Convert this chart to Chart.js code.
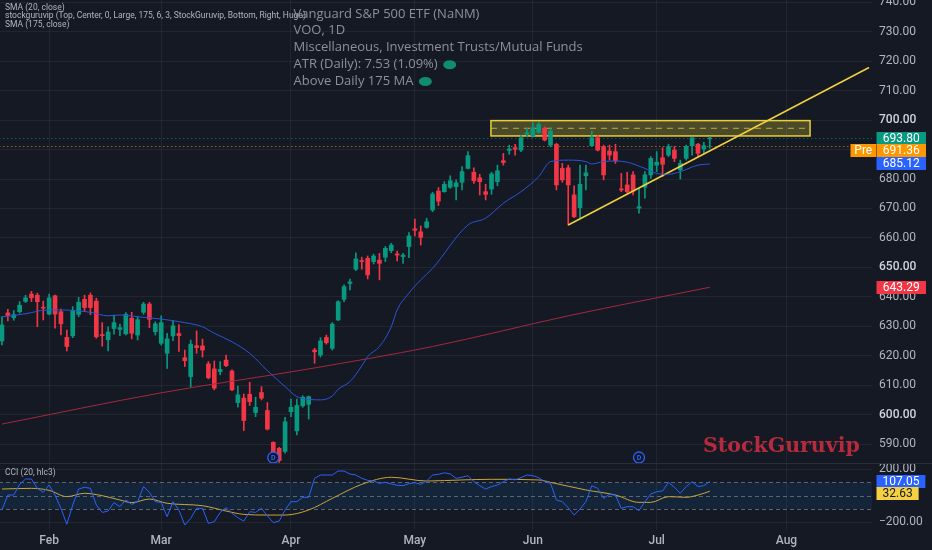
<!DOCTYPE html>
<html>
<head>
<meta charset="utf-8">
<script src="https://cdn.jsdelivr.net/npm/chart.js@4.4.1/dist/chart.umd.min.js"></script>
<style>
  html, body { margin: 0; padding: 0; background: #151924; width: 932px; height: 550px; overflow: hidden; }
  #pricePane { position: absolute; left: -1px; top: 0; width: 933px; height: 463px; }
  #cciPane { position: absolute; left: -1px; top: 463px; width: 933px; height: 87px; }
</style>
</head>
<body>
<div id="pricePane"><canvas id="priceChart"></canvas></div>
<div id="cciPane"><canvas id="cciChart"></canvas></div>
<script>
// trading days, Jan 21 -> Aug 21 (future slots keep the empty space on the right)
const monthNames = ['Jan', 'Feb', 'Mar', 'Apr', 'May', 'Jun', 'Jul', 'Aug'];
const monthDays = [
  [21, 22, 23, 26, 27, 28, 29, 30],
  [2, 3, 4, 5, 6, 9, 10, 11, 12, 13, 17, 18, 19, 20, 23, 24, 25, 26, 27],
  [2, 3, 4, 5, 6, 9, 10, 11, 12, 13, 16, 17, 18, 19, 20, 23, 24, 25, 26, 27, 30, 31],
  [1, 2, 6, 7, 8, 9, 10, 13, 14, 15, 16, 17, 20, 21, 22, 23, 24, 27, 28, 29, 30],
  [1, 4, 5, 6, 7, 8, 11, 12, 13, 14, 15, 18, 19, 20, 21, 22, 26, 27, 28, 29],
  [1, 2, 3, 4, 5, 8, 9, 10, 11, 12, 15, 16, 17, 18, 22, 23, 24, 25, 26, 29, 30],
  [1, 2, 6, 7, 8, 9, 10, 13, 14, 15, 16, 17, 20, 21, 22, 23, 24, 27, 28, 29, 30, 31],
  [3, 4, 5, 6, 7, 10, 11, 12, 13, 14, 17, 18, 19, 20, 21]
];
const tickMonths = ['Feb', 'Mar', 'Apr', 'May', 'Jun', 'Jul', 'Aug'];
const priceTicks = [590, 600, 610, 620, 630, 640, 650, 660, 670, 680, 690, 700, 710, 720, 730, 740];
const strongTicks = [600, 650, 700];
const cciTicks = [-200, 200];

// VOO daily candles
const opens = [625.1, 634.6, 633.0, 635.0, 638.5, 641.0, 640.6, 636.5, 634.2, 640.4,
  635.0, 626.3, 626.8, 634.1, 639.2, 640.6, 638.6, 627.1, 625.5, 629.3,
  629.0, 627.5, 632.8, 627.1, 634.8, 637.6, 628.2, 624.3, 620.9, 626.8,
  627.6, 619.4, 613.0, 623.5, 623.4, 617.3, 615.6, 614.7, 618.6, 614.9,
  604.2, 605.7, 607.0, 600.8, 607.6, 601.5, 590.7, 588.7, 587.6, 601.1,
  594.6, 603.1, 603.6, 622.0, 620.3, 626.3, 622.6, 632.2, 639.2, 644.6,
  649.4, 652.3, 653.1, 652.0, 652.5, 653.5, 655.7, 654.6, 653.7, 657.1,
  663.1, 662.1, 663.6, 669.5, 675.9, 675.7, 677.2, 677.4, 678.9, 683.6,
  682.3, 680.4, 675.7, 676.6, 679.1, 686.2, 689.7, 690.6, 689.8, 695.2,
  694.6, 695.8, 697.2, 691.5, 691.8, 683.6, 683.8, 674.6, 670.3, 681.1,
  691.3, 694.0, 691.0, 689.5, 689.3, 676.6, 678.0, 681.4, 670.1, 677.2,
  681.4, 684.7, 687.2, 688.1, 689.8, 683.1, 687.0, 691.3, 691.8, 690.2,
  693.6];
const highs = [633.3, 635.8, 635.4, 638.4, 640.6, 641.9, 641.3, 638.6, 641.0, 640.6,
  635.9, 628.8, 636.7, 639.9, 640.6, 641.4, 639.6, 631.3, 629.9, 633.9,
  630.8, 634.7, 634.8, 633.3, 638.2, 638.2, 631.6, 633.6, 627.7, 631.9,
  630.6, 622.0, 625.4, 628.5, 625.7, 618.1, 618.3, 618.1, 620.3, 615.3,
  609.8, 607.1, 611.1, 606.0, 609.6, 604.2, 590.9, 589.0, 599.2, 605.4,
  605.4, 606.5, 606.4, 622.6, 626.2, 627.1, 631.3, 638.7, 644.1, 646.1,
  655.0, 653.5, 653.9, 654.5, 654.8, 657.1, 658.2, 655.6, 654.8, 661.8,
  666.4, 664.1, 666.7, 675.5, 677.1, 679.1, 681.1, 679.7, 684.2, 689.3,
  683.8, 681.6, 678.2, 682.3, 684.7, 688.7, 691.5, 691.8, 694.7, 697.2,
  699.2, 699.2, 697.7, 697.4, 692.1, 685.3, 684.7, 677.7, 684.7, 684.7,
  696.3, 694.7, 691.5, 691.5, 691.8, 681.9, 682.3, 682.5, 676.8, 682.5,
  687.6, 689.3, 690.6, 691.8, 691.0, 686.4, 691.5, 694.0, 692.1, 692.4,
  694.3];
const lows = [623.7, 631.9, 632.1, 634.5, 638.1, 638.4, 629.9, 632.2, 633.9, 629.4,
  627.1, 621.7, 626.2, 633.3, 635.0, 634.0, 626.0, 623.3, 621.7, 627.4,
  626.9, 627.1, 625.8, 625.4, 634.1, 629.6, 627.1, 623.7, 615.8, 625.2,
  621.5, 616.4, 609.4, 620.9, 619.6, 612.2, 608.5, 613.6, 616.4, 608.2,
  602.6, 594.7, 603.2, 599.4, 605.1, 594.9, 587.0, 583.9, 587.0, 599.4,
  593.2, 602.6, 598.6, 617.5, 619.6, 624.0, 622.0, 632.0, 638.4, 642.4,
  648.9, 649.4, 646.1, 651.2, 645.8, 652.0, 655.0, 652.2, 651.4, 653.3,
  660.7, 657.6, 663.3, 668.9, 671.0, 675.5, 676.8, 672.9, 676.3, 683.4,
  678.5, 674.6, 672.9, 674.8, 677.7, 684.7, 688.4, 688.1, 689.3, 694.3,
  694.2, 695.5, 692.9, 690.9, 676.3, 678.9, 664.4, 666.9, 666.7, 676.3,
  691.0, 689.5, 679.7, 686.4, 685.3, 675.7, 675.2, 674.6, 668.4, 673.5,
  680.2, 682.5, 680.8, 687.6, 685.9, 680.0, 686.4, 688.1, 687.6, 688.7,
  690.4];
const closes = [630.5, 633.7, 634.0, 637.2, 639.7, 639.7, 638.4, 636.2, 639.7, 634.2,
  630.9, 623.2, 635.3, 638.2, 636.4, 636.4, 626.5, 626.9, 628.1, 631.3,
  629.6, 634.1, 627.7, 632.3, 637.6, 632.4, 630.9, 631.3, 625.8, 630.2,
  626.9, 618.4, 624.0, 622.8, 622.0, 612.6, 609.1, 615.4, 616.7, 608.5,
  606.8, 598.1, 604.5, 602.6, 605.7, 595.2, 587.4, 584.5, 597.7, 602.6,
  603.2, 606.0, 606.2, 621.4, 625.1, 624.5, 630.8, 638.4, 643.5, 645.1,
  652.9, 652.0, 647.5, 653.9, 651.4, 656.5, 657.6, 654.2, 654.2, 660.7,
  662.6, 660.2, 665.5, 674.9, 672.5, 678.2, 679.4, 678.7, 682.5, 687.9,
  679.4, 679.1, 674.8, 681.7, 682.8, 685.6, 690.2, 690.1, 694.0, 695.7,
  697.4, 698.5, 693.2, 696.3, 678.0, 679.7, 678.0, 667.2, 678.2, 682.1,
  694.0, 689.8, 681.4, 688.1, 686.2, 676.3, 675.7, 675.9, 670.6, 681.4,
  687.0, 685.7, 685.0, 691.0, 687.0, 685.3, 691.0, 694.0, 688.7, 691.3,
  693.8];

// moving averages at sample bars
const sma20Days = [0, 2, 5, 7, 10, 13, 15, 18, 20, 23, 27, 31, 34, 36, 39, 42, 45, 48, 50, 52,
  54, 56, 57, 59, 61, 62, 64, 66, 67, 69, 71, 73, 79, 82, 85, 88, 91, 93, 96, 99,
  100, 102, 104, 106, 109, 111, 113, 115, 118, 120];
const sma20Vals = [633.3, 633.7, 634.7, 635.5, 635.6, 635.3, 634.8, 633.6, 633.9, 633.3,
  632.5, 631.3, 629.9, 627.7, 624.8, 620.9, 615.0, 609.6, 606.2, 605.3,
  605.1, 606.4, 608.7, 611.3, 616.6, 619.8, 623.2, 629.9, 635.6, 641.3,
  645.8, 649.7, 664.4, 666.7, 671.8, 675.7, 680.8, 685.9, 686.4, 685.9,
  685.1, 685.9, 686.1, 685.7, 683.6, 681.9, 681.6, 682.5, 684.7, 685.1];
const sma175Days = [0, 27, 52, 73, 96, 120];
const sma175Vals = [596.9, 607.5, 615.6, 623.2, 633.6, 643.3];

// CCI (20, hlc3) and its smoothing line
const cci = [-107, 5, 5, 85, 125, 125, 55, 25, 80, 5,
  -95, -214, -70, 50, 63, 55, -70, -125, -115, -52,
  -82, -32, -65, -45, 68, 25, -45, -50, -157, -45,
  -107, -220, -170, -95, -95, -207, -195, -125, -90, -132,
  -165, -190, -120, -125, -95, -150, -202, -190, -107, -45,
  -45, -12, -12, 130, 155, 155, 155, 185, 185, 162,
  155, 130, 115, 110, 93, 100, 88, 78, 75, 90,
  98, 85, 110, 155, 160, 172, 163, 130, 138, 150,
  105, 75, 50, 68, 80, 105, 125, 118, 135, 155,
  150, 135, 105, 93, -32, -45, -90, -145, -100, -45,
  75, 55, -20, 10, 5, -95, -82, -82, -112, -45,
  13, 30, 35, 100, 63, 18, 68, 105, 68, 75,
  107];
const cciMaDays = [0, 5, 8, 11, 14, 17, 20, 22, 25, 28, 34, 38, 41, 45, 48, 52, 56, 61, 66, 72,
  78, 83, 91, 93, 99, 104, 108, 110, 113, 116, 118, 120];
const cciMaVals = [50, 55, 40, -7, 18, 0, -32, -52, -25, -57, -75, -115, -140, -145, -145, -107, -20, 85, 138, 110,
  118, 123, 118, 100, 43, 5, -50, -50, -7, -12, 5, 33];
const cciBands = [100, 0, -100];

// drawings
const trendDays = [96, 147];
const trendVals = [664.4, 717.8];
const zoneSpan = [82.9, 137.0];
const zonePrices = [694.6, 699.8];
const zoneMid = 697.2;
const dividendDays = ['Mar 27', 'Jun 26'];

const lastClose = 693.80;
const preMarket = 691.36;
const sma20Last = 685.12;
const sma175Last = 643.29;
const cciLast = 107.05;
const cciMaLast = 32.63;

const legendLines = [
  'SMA (20, close)',
  'stockguruvip (Top, Center, 0, Large, 175, 6, 3, StockGuruvip, Bottom, Right, Huge)',
  'SMA (175, close)'
];
const titleLines = [
  'Vanguard S&P 500 ETF (NaNM)',
  'VOO, 1D',
  'Miscellaneous, Investment Trusts/Mutual Funds',
  'ATR (Daily): 7.53 (1.09%)',
  'Above Daily 175 MA'
];

const days = monthDays.flatMap((ds, m) => ds.map(d => monthNames[m] + ' ' + d));
const monthStart = new Set();
monthDays.forEach((ds, m) => {
  if (tickMonths.includes(monthNames[m])) monthStart.add(days.indexOf(monthNames[m] + ' ' + ds[0]));
});

function sparse(idx, vals) {
  const out = new Array(days.length).fill(null);
  idx.forEach((d, k) => { out[d] = vals[k]; });
  return out;
}

const BG = '#151924';
const GRID = 'rgba(255,255,255,0.055)';
const UP = '#089981';
const DOWN = '#f23645';
const FONT = 'Roboto, "Noto Sans", sans-serif';
const candleColors = closes.map((c, i) => c >= opens[i] ? UP : DOWN);

function isStrong(c) {
  return !!(c && c.tick && strongTicks.includes(c.tick.value));
}

function xScale(showLabels) {
  return {
    type: 'category',
    offset: true,
    grid: {
      offset: false,
      drawTicks: false,
      color: c => monthStart.has(c.index) ? GRID : 'transparent'
    },
    border: { display: false },
    ticks: {
      display: showLabels,
      autoSkip: false,
      maxRotation: 0,
      minRotation: 0,
      padding: 4,
      color: '#b2b5be',
      font: { family: FONT, size: 12, weight: '500' },
      callback: (v, i) => monthStart.has(i) ? days[i].split(' ')[0] : ''
    },
    afterFit: s => {
      s.height = showLabels ? 20 : 0;
      s.paddingLeft = 0;
      s.paddingRight = 0;
    }
  };
}

// right-hand price scale: fixed width, no extra vertical padding
function fitRight(s) {
  s.width = 60;
  s.paddingTop = 0;
  s.paddingBottom = 0;
}

function yTicks() {
  return {
    padding: 7,
    color: c => isStrong(c) ? '#d1d4dc' : '#b2b5be',
    font: c => ({ family: FONT, size: 12, weight: isStrong(c) ? '500' : '400' })
  };
}

function axisBox(ctx, left, cy, text, bg, fg, fixedW) {
  ctx.font = '12px ' + FONT;
  const w = fixedW || ctx.measureText(text).width + 12;
  ctx.fillStyle = bg;
  ctx.fillRect(left, Math.round(cy - 6.5), w, 13);
  ctx.fillStyle = fg;
  ctx.textAlign = 'center';
  ctx.textBaseline = 'middle';
  ctx.fillText(text, left + w / 2, cy + 0.5);
}

function spread(items, gap) {
  items.sort((a, b) => a.y - b.y);
  for (let k = 1; k < items.length; k++) {
    if (items[k].y - items[k - 1].y < gap) items[k].y = items[k - 1].y + gap;
  }
  return items;
}

const pricePanePlugin = {
  id: 'pricePane',
  beforeDatasetsDraw(chart) {
    const { ctx, chartArea: a, scales: { x, y } } = chart;
    ctx.save();
    // resistance zone
    const zx1 = x.getPixelForValue(zoneSpan[0]);
    const zx2 = x.getPixelForValue(zoneSpan[1]);
    const zy1 = y.getPixelForValue(zonePrices[1]);
    const zy2 = y.getPixelForValue(zonePrices[0]);
    ctx.fillStyle = 'rgba(255,235,59,0.24)';
    ctx.fillRect(zx1, zy1, zx2 - zx1, zy2 - zy1);
    ctx.strokeStyle = '#e9cf3c';
    ctx.lineWidth = 1.5;
    ctx.strokeRect(zx1, zy1, zx2 - zx1, zy2 - zy1);
    ctx.setLineDash([6, 5]);
    ctx.lineWidth = 1;
    ctx.strokeStyle = 'rgba(233,207,60,0.75)';
    const ym = y.getPixelForValue(zoneMid);
    ctx.beginPath(); ctx.moveTo(zx1, ym); ctx.lineTo(zx2, ym); ctx.stroke();
    // last price / pre-market lines
    ctx.setLineDash([1.5, 2.5]);
    [[lastClose, 'rgba(8,153,129,0.55)'], [preMarket, 'rgba(255,152,0,0.6)']].forEach(([v, col]) => {
      const py = Math.round(y.getPixelForValue(v)) + 0.5;
      ctx.strokeStyle = col;
      ctx.beginPath(); ctx.moveTo(a.left, py); ctx.lineTo(a.right, py); ctx.stroke();
    });
    ctx.restore();
  },
  afterDatasetsDraw(chart) {
    const { ctx, chartArea: a, scales: { x } } = chart;
    ctx.save();
    // dividend markers
    dividendDays.forEach(d => {
      const px = x.getPixelForValue(days.indexOf(d));
      const py = a.bottom - 5.5;
      ctx.beginPath();
      ctx.arc(px, py, 5.5, 0, Math.PI * 2);
      ctx.fillStyle = BG;
      ctx.fill();
      ctx.lineWidth = 1.3;
      ctx.strokeStyle = '#2962ff';
      ctx.stroke();
      ctx.fillStyle = '#2962ff';
      ctx.font = 'bold 7px ' + FONT;
      ctx.textAlign = 'center';
      ctx.textBaseline = 'middle';
      ctx.fillText('D', px, py + 0.5);
    });
    // watermark
    ctx.font = 'bold 20.5px "DejaVu Serif", "Liberation Serif", serif';
    ctx.fillStyle = '#b52a3d';
    ctx.textAlign = 'left';
    ctx.textBaseline = 'alphabetic';
    ctx.fillText('StockGuruvip', 704, 452);
    ctx.restore();
  },
  afterDraw(chart) {
    const { ctx, chartArea: a, scales: { y } } = chart;
    ctx.save();
    // indicator legend
    ctx.font = '8.5px ' + FONT;
    ctx.fillStyle = '#b2b5be';
    ctx.textAlign = 'left';
    ctx.textBaseline = 'middle';
    legendLines.forEach((t, k) => ctx.fillText(t, 6, 7.5 + k * 8.8));
    // symbol info block
    ctx.font = '13px "Open Sans", ' + FONT;
    titleLines.forEach((t, k) => {
      const ty = 14 + k * 16.75;
      ctx.fillStyle = '#8d909a';
      ctx.fillText(t, 294.5, ty);
      if (k >= 3) {
        const tx = 294.5 + ctx.measureText(t).width + 12;
        ctx.beginPath();
        ctx.ellipse(tx, ty + 0.5, 6.5, 4.5, 0, 0, Math.PI * 2);
        ctx.fillStyle = '#0f8d6c';
        ctx.fill();
      }
    });
    // price scale labels
    const left = a.right + 4.5;
    const items = spread([
      { y: y.getPixelForValue(lastClose), text: lastClose.toFixed(2), bg: UP },
      { y: y.getPixelForValue(preMarket), text: preMarket.toFixed(2), bg: '#ff9800', pre: true },
      { y: y.getPixelForValue(sma20Last), text: sma20Last.toFixed(2), bg: '#2962ff' },
      { y: y.getPixelForValue(sma175Last), text: sma175Last.toFixed(2), bg: DOWN }
    ], 12);
    items.forEach(it => {
      axisBox(ctx, left, it.y, it.text, it.bg, '#ffffff', 49.5);
      if (it.pre) axisBox(ctx, left - 26, it.y, 'Pre', it.bg, '#ffffff', 25.5);
    });
    ctx.restore();
  }
};

const cciPanePlugin = {
  id: 'cciPane',
  beforeDatasetsDraw(chart) {
    const { ctx, chartArea: a, scales: { y } } = chart;
    ctx.save();
    const yTop = y.getPixelForValue(cciBands[0]);
    const yBot = y.getPixelForValue(cciBands[2]);
    ctx.fillStyle = 'rgba(33,150,243,0.1)';
    ctx.fillRect(a.left, yTop, a.right - a.left, yBot - yTop);
    ctx.setLineDash([4, 3]);
    ctx.lineWidth = 1;
    ctx.strokeStyle = 'rgba(120,123,134,0.75)';
    cciBands.forEach(v => {
      const py = Math.round(y.getPixelForValue(v)) + 0.5;
      ctx.beginPath(); ctx.moveTo(a.left, py); ctx.lineTo(a.right, py); ctx.stroke();
    });
    ctx.restore();
  },
  afterDraw(chart) {
    const { ctx, chartArea: a, scales: { y } } = chart;
    ctx.save();
    ctx.strokeStyle = '#2a2e39';
    ctx.lineWidth = 1;
    ctx.beginPath(); ctx.moveTo(0, 0.5); ctx.lineTo(chart.width, 0.5); ctx.stroke();
    ctx.font = '8.5px ' + FONT;
    ctx.fillStyle = '#b2b5be';
    ctx.textAlign = 'left';
    ctx.textBaseline = 'middle';
    ctx.fillText('CCI (20, hlc3)', 6, 10);
    const left = a.right + 4.5;
    const items = spread([
      { y: y.getPixelForValue(cciLast), text: cciLast.toFixed(2), bg: '#2962ff', fg: '#ffffff' },
      { y: y.getPixelForValue(cciMaLast), text: cciMaLast.toFixed(2), bg: '#f5d142', fg: '#131722' }
    ], 12);
    items.forEach(it => axisBox(ctx, left, it.y, it.text, it.bg, it.fg));
    ctx.restore();
  }
};

new Chart(document.getElementById('priceChart'), {
  type: 'bar',
  data: {
    labels: days,
    datasets: [
      {
        type: 'line', label: 'SMA 20', data: sparse(sma20Days, sma20Vals),
        borderColor: '#2a56d8', borderWidth: 1, pointRadius: 0, spanGaps: true,
        cubicInterpolationMode: 'monotone', order: 0
      },
      {
        type: 'line', label: 'SMA 175', data: sparse(sma175Days, sma175Vals),
        borderColor: '#a32a3b', borderWidth: 1, pointRadius: 0, spanGaps: true,
        cubicInterpolationMode: 'monotone', order: 0
      },
      {
        type: 'line', label: 'Trend', data: sparse(trendDays, trendVals),
        borderColor: '#f2d23e', borderWidth: 1.5, pointRadius: 0, spanGaps: true, order: 0
      },
      {
        label: 'Wick', data: lows.map((l, i) => [l, highs[i]]),
        backgroundColor: candleColors, barThickness: 1, grouped: false, order: 2
      },
      {
        label: 'Body', data: opens.map((o, i) => [o, closes[i]]),
        backgroundColor: candleColors, barThickness: 4, minBarLength: 1, grouped: false, order: 1
      }
    ]
  },
  options: {
    responsive: true,
    maintainAspectRatio: false,
    animation: false,
    layout: { padding: 0, autoPadding: false },
    plugins: { legend: { display: false }, tooltip: { enabled: false } },
    scales: {
      x: xScale(false),
      y: {
        position: 'right',
        min: 583.7,
        max: 740.7,
        afterBuildTicks: s => { s.ticks = priceTicks.map(v => ({ value: v })); },
        afterFit: fitRight,
        grid: { color: GRID, drawTicks: false },
        border: { display: false },
        ticks: Object.assign(yTicks(), { callback: v => v.toFixed(2) })
      }
    }
  },
  plugins: [pricePanePlugin]
});

new Chart(document.getElementById('cciChart'), {
  type: 'line',
  data: {
    labels: days,
    datasets: [
      {
        label: 'CCI', data: cci, borderColor: '#2962ff', borderWidth: 1,
        pointRadius: 0, tension: 0
      },
      {
        label: 'CCI MA', data: sparse(cciMaDays, cciMaVals), borderColor: '#caa53a', borderWidth: 1,
        pointRadius: 0, spanGaps: true, cubicInterpolationMode: 'monotone'
      }
    ]
  },
  options: {
    responsive: true,
    maintainAspectRatio: false,
    animation: false,
    layout: { padding: 0, autoPadding: false },
    plugins: { legend: { display: false }, tooltip: { enabled: false } },
    scales: {
      x: xScale(true),
      y: {
        position: 'right',
        min: -257,
        max: 245,
        afterBuildTicks: s => { s.ticks = cciTicks.map(v => ({ value: v })); },
        afterFit: fitRight,
        grid: { color: GRID, drawTicks: false },
        border: { display: false },
        ticks: Object.assign(yTicks(), {
          callback: v => (v < 0 ? '\u2212' : '') + Math.abs(v).toFixed(2)
        })
      }
    }
  },
  plugins: [cciPanePlugin]
});
</script>
</body>
</html>
